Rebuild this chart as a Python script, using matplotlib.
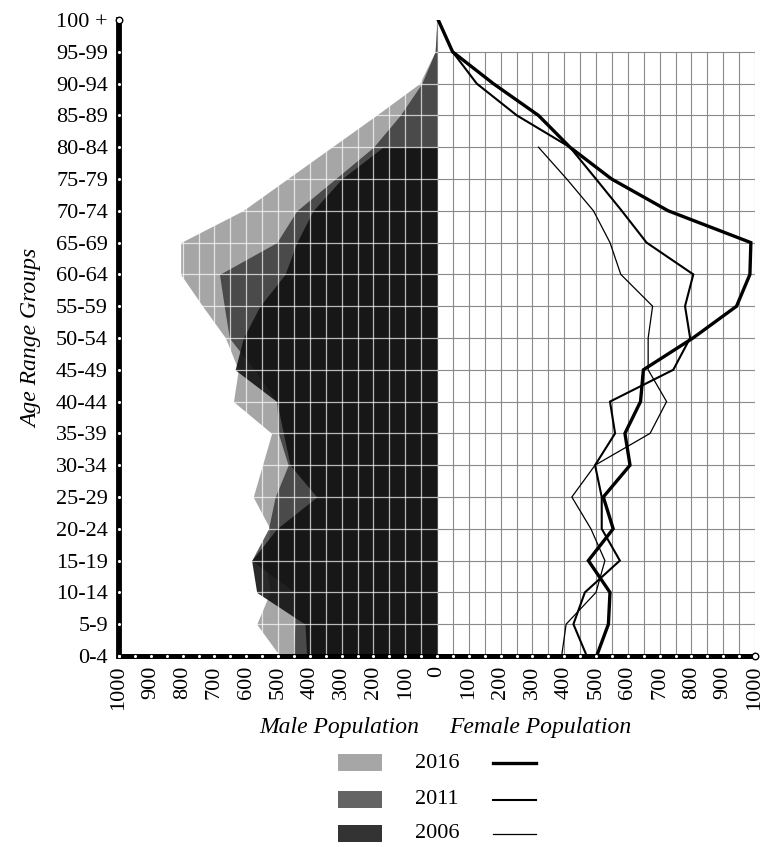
import numpy as np
import matplotlib
matplotlib.use("Agg")
import matplotlib.pyplot as plt
from matplotlib.patches import Rectangle
from matplotlib.lines import Line2D

plt.rcParams['font.family'] = ['Liberation Serif', 'DejaVu Serif']

age_groups = ["0-4", "5-9", "10-14", "15-19", "20-24", "25-29", "30-34", "35-39",
              "40-44", "45-49", "50-54", "55-59", "60-64", "65-69", "70-74", "75-79",
              "80-84", "85-89", "90-94", "95-99", "100 +"]
nan = np.nan
male_2016 = [494, 567, 525, 540, 525, 578, 549, 520, 640, 625, 665, 737, 806, 806, 611, 471, 331, 191, 55, 6, 0]
male_2011 = [452, 447, 447, 583, 530, 509, 468, 499, 504, 574, 653, 669, 684, 504, 441, 320, 200, 116, 48, 6, 0]
male_2006 = [410, 415, 567, 583, 504, 378, 462, 483, 504, 635, 609, 557, 478, 441, 390, 300, 170, nan, nan, nan, nan]
female_2016 = [502, 539, 544, 476, 554, 523, 607, 591, 640, 649, 805, 942, 984, 987, 727, 549, 418, 319, 177, 49, 4]
female_2011 = [471, 429, 465, 575, 518, 518, 497, 560, 544, 743, 796, 780, 806, 659, 581, 500, 418, 251, 125, 49, 4]
female_2006 = [392, 406, 500, 528, 484, 424, 497, 670, 722, 664, 664, 678, 578, 544, 492, 408, 319, nan, nan, nan, nan]
years = ["2016", "2011", "2006"]
x_ticks = list(range(-1000, 1001, 100))

W, H = 765, 847
fig = plt.figure(figsize=(W / 100, H / 100), dpi=100)
ax = fig.add_axes([119 / W, 191 / H, 636 / W, 636 / H])

y = np.arange(len(age_groups))
n = len(age_groups)

# male filled areas
ax.fill_betweenx(y, -np.array(male_2016, float), 0, color='#a6a6a6', lw=0, zorder=1)
ax.fill_betweenx(y, -np.array(male_2011, float), 0, color='#333333', alpha=0.8, lw=0, zorder=2)
ax.fill_betweenx(y, -np.array(male_2006, float), 0, color='#121212', alpha=0.9, lw=0, zorder=3)

# grids
grid_x = np.arange(-1000, 1001, 50)
for gx in grid_x:
    if gx < 0:
        ax.plot([gx, gx], [0, n - 2], color='white', alpha=0.7, lw=0.9, zorder=4)
    elif gx > 0:
        ax.plot([gx, gx], [0, n - 2], color='#8a8a8a', lw=0.8, zorder=0.5)
ax.plot([0, 0], [0, n - 1], color='#bbbbbb', lw=0.9, zorder=0.5)
for gy in range(0, n - 1):
    ax.plot([-1000, 0], [gy, gy], color='white', alpha=0.7, lw=0.9, zorder=4)
    ax.plot([0, 1000], [gy, gy], color='#8a8a8a', lw=0.8, zorder=0.5)

# female lines
ax.plot(female_2016, y, color='black', lw=2.4, zorder=6, solid_joinstyle='miter')
ax.plot(female_2011, y, color='black', lw=1.5, zorder=6, solid_joinstyle='miter')
ax.plot(female_2006, y, color='black', lw=0.9, zorder=6, solid_joinstyle='miter')

ax.set_xlim(-1000, 1000)
ax.set_ylim(0, n - 1)
ax.set_yticks(y)
ax.set_yticklabels(age_groups, fontsize=16)
ax.set_xticks(x_ticks)
ax.set_xticklabels([str(abs(v)) for v in x_ticks], rotation=90, fontsize=16)
ax.tick_params(length=0)
ax.tick_params(axis='y', pad=8)
ax.tick_params(axis='x', pad=7)
for s in ['top', 'right']:
    ax.spines[s].set_visible(False)
ax.spines['left'].set_linewidth(4.2)
ax.spines['bottom'].set_linewidth(3.6)
ax.spines['left'].set_zorder(7)
ax.spines['bottom'].set_zorder(7)

# dots on spines
ax.scatter(grid_x[:-1], np.zeros(len(grid_x) - 1), s=5, color='white', zorder=8, clip_on=False, lw=0)
ax.scatter(np.full(n - 1, -1000), y[:-1], s=5, color='white', zorder=8, clip_on=False, lw=0)
ax.scatter([-1000, 1000], [n - 1, 0], s=22, facecolor='white', edgecolor='black', lw=1.0, zorder=9, clip_on=False)

ax.set_ylabel("Age Range Groups", fontsize=17, style='italic', labelpad=10)

fig.text(339 / W, 1 - 727 / H, "Male Population", fontsize=17, style='italic', ha='center', va='center')
fig.text(540 / W, 1 - 727 / H, "Female Population", fontsize=17, style='italic', ha='center', va='center')

# legend
leg = fig.add_axes([0, 0, 1, 1], zorder=-1)
leg.set_xlim(0, W)
leg.set_ylim(H, 0)
leg.axis('off')
leg_colors = ['#a6a6a6', '#646464', '#333333']
leg_lw = [2.4, 1.5, 0.9]
rows = [763, 800, 834]
for yr, c, lw, ry in zip(years, leg_colors, leg_lw, rows):
    leg.add_patch(Rectangle((338, ry - 8.5), 44, 17, facecolor=c, edgecolor='none'))
    leg.text(415, ry, yr, fontsize=16, ha='left', va='center')
    leg.add_line(Line2D([493, 536], [ry, ry], color='black', lw=lw))

fig.savefig("out.png", dpi=100)
